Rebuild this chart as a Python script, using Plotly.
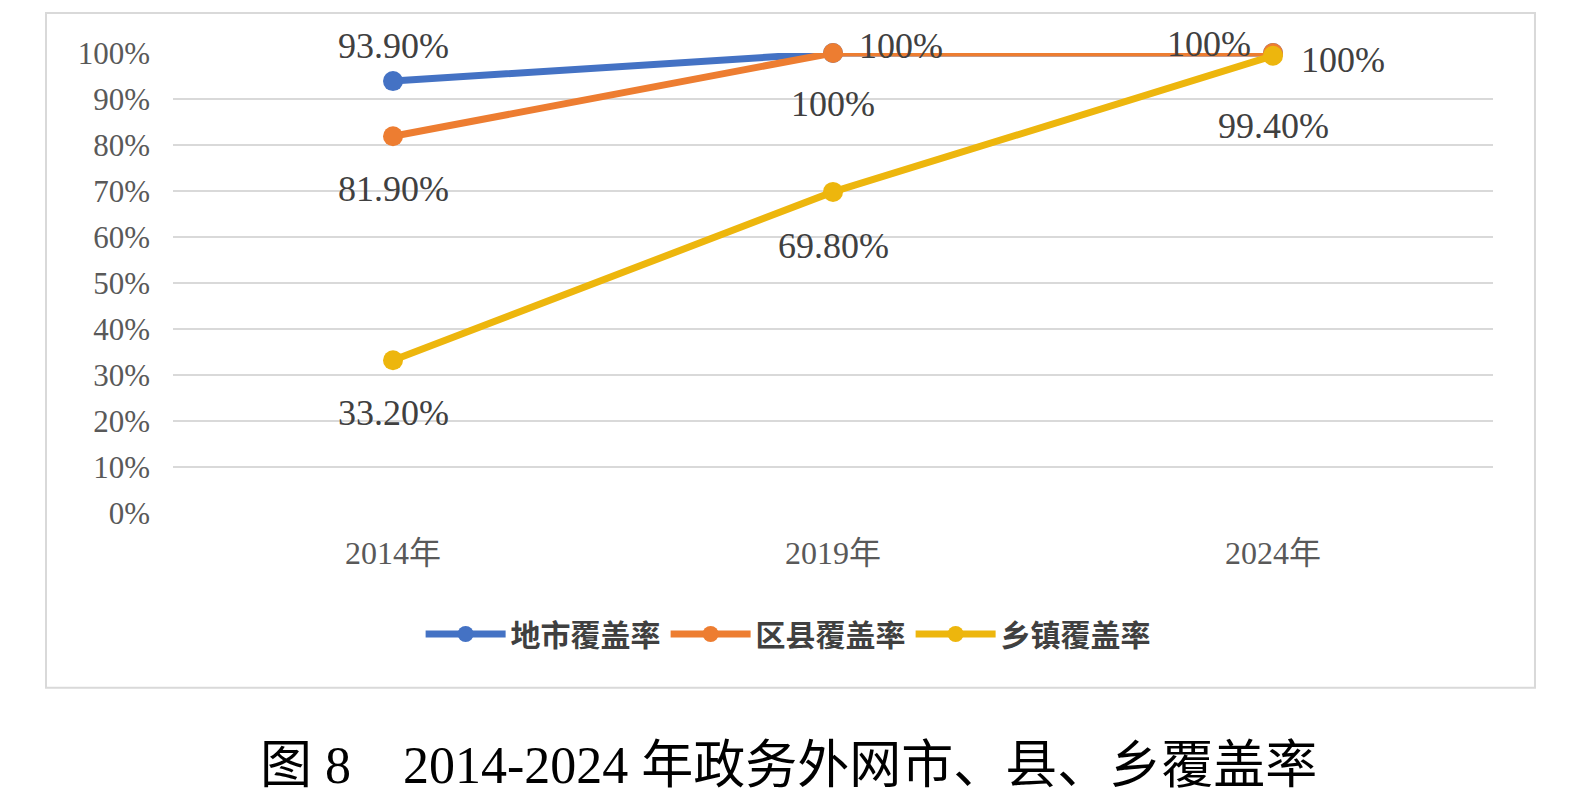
import plotly.graph_objects as go

years = ["2014年", "2019年", "2024年"]
city = [93.9, 100, 100]
county = [81.9, 100, 100]
town = [33.2, 69.8, 99.4]
series_names = ["地市覆盖率", "区县覆盖率", "乡镇覆盖率"]
y_ticks = list(range(0, 101, 10))

colors = ["#4472C4", "#ED7D31", "#EDB60D"]
# label offsets (xshift, yshift) per point
offsets = [
    [(0, 35), (68, 7), (-64, 9)],
    [(0, -53), (0, -51), (70, -7)],
    [(0, -53), (0, -54), (0, -70)],
]

def fmt(v):
    return "100%" if v == 100 else f"{v:.2f}%"

fig = go.Figure()
annotations = []
for name, vals, col, offs in zip(series_names, [city, county, town], colors, offsets):
    fig.add_trace(go.Scatter(
        x=years, y=vals, name=name, mode="lines+markers",
        line=dict(color=col, width=7),
        marker=dict(color=col, size=20),
        cliponaxis=False,
    ))
    for x, v, (dx, dy) in zip(years, vals, offs):
        annotations.append(dict(
            x=x, y=v, xref="x", yref="y", text=fmt(v), showarrow=False,
            xshift=dx, yshift=dy,
            font=dict(family="Liberation Serif, Noto Sans CJK SC", size=36, color="#404040"),
        ))

annotations.append(dict(
    x=0.466, y=-0.615, xref="paper", yref="paper",
    text="图 8　2014-2024 年政务外网市、县、乡覆盖率", showarrow=False,
    font=dict(family="Liberation Serif, Noto Sans CJK SC", size=52, color="#000000"),
))

fig.update_layout(
    width=1577, height=804,
    margin=dict(l=173, r=84, t=53, b=291),
    paper_bgcolor="white", plot_bgcolor="white",
    showlegend=True,
    legend=dict(orientation="h", x=0.466, xanchor="center", y=-0.263, yanchor="middle",
                font=dict(family="Noto Sans CJK SC", size=30, color="#404040", weight="bold"),
                itemwidth=80, traceorder="normal"),
    annotations=annotations,
    shapes=[dict(type="rect", xref="paper", yref="paper",
                 x0=-0.0962, x1=1.0318, y0=-0.380, y1=1.087,
                 line=dict(color="#D9D9D9", width=2), fillcolor="rgba(0,0,0,0)", layer="below")],
    xaxis=dict(
        type="category", range=[-0.5, 2.5], showgrid=False, zeroline=False,
        showline=False, ticks="",
        tickfont=dict(family="Liberation Serif, Noto Sans CJK SC", size=32, color="#595959"),
        ticklabelstandoff=18,
    ),
    yaxis=dict(
        range=[0, 100], tickvals=y_ticks, ticktext=[f"{t}%" for t in y_ticks],
        showgrid=True, gridcolor="#D9D9D9", gridwidth=2, zeroline=False, showline=False,
        tickfont=dict(family="Liberation Serif", size=31, color="#595959"),
        ticklabelstandoff=22,
    ),
)

fig.write_html("out.html")
